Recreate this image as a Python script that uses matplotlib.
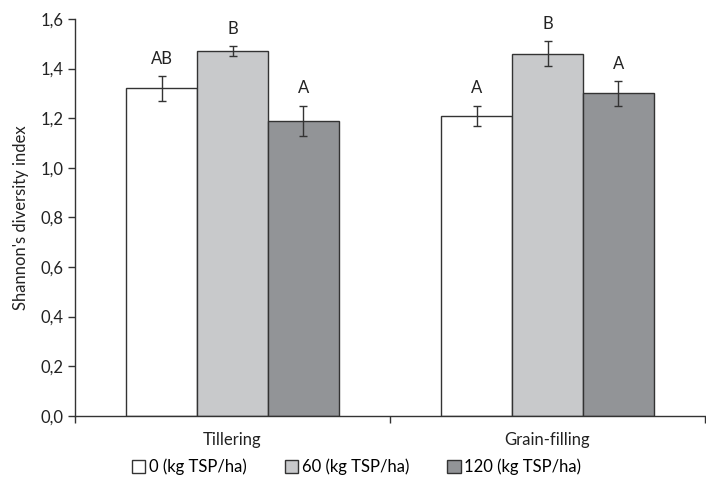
import matplotlib.pyplot as plt
import numpy as np
from matplotlib.ticker import FuncFormatter

plt.rcParams['font.family'] = ['Lato', 'DejaVu Sans']

# data
stages = ["Tillering", "Grain-filling"]
treatments = ["0 (kg TSP/ha)", "60 (kg TSP/ha)", "120 (kg TSP/ha)"]
means_0 = [1.32, 1.21]
means_60 = [1.47, 1.46]
means_120 = [1.19, 1.30]
err_0 = [0.05, 0.04]
err_60 = [0.02, 0.05]
err_120 = [0.06, 0.05]
letters_0 = ["AB", "A"]
letters_60 = ["B", "B"]
letters_120 = ["A", "A"]

colors = ["#ffffff", "#c8c9cb", "#929497"]
fs = 12

fig = plt.figure(figsize=(7.06, 4.84), dpi=100)
ax = fig.add_axes([0.1062, 0.141, 0.8925, 0.8197])

x = np.arange(len(stages))
w = 0.225
series = [(means_0, err_0, letters_0), (means_60, err_60, letters_60),
          (means_120, err_120, letters_120)]
for i, (m, e, lab) in enumerate(series):
    pos = x + (i - 1) * w
    ax.bar(pos, m, width=w, color=colors[i], edgecolor="#333333",
           linewidth=1.0, label=treatments[i], zorder=2)
    ax.errorbar(pos, m, yerr=e, fmt="none", ecolor="#333333",
                elinewidth=1.0, capsize=3, capthick=1.0, zorder=3)
    for p, mv, ev, t in zip(pos, m, e, lab):
        ax.text(p, mv + ev + 0.07, t, ha="center", va="center",
                fontsize=fs, color="#222222")

ax.set_xlim(-0.5, 1.5)
ax.set_ylim(0, 1.6)
ax.set_yticks(np.arange(0, 1.61, 0.2))
ax.yaxis.set_major_formatter(FuncFormatter(lambda v, p: f"{v:.1f}".replace(".", ",")))
ax.set_xticks(x)
ax.set_xticklabels(stages)
ax.set_xticks([-0.5, 0.5, 1.5], minor=True)
ax.tick_params(axis="x", which="major", length=0, pad=12, labelsize=fs, colors="#222222")
ax.tick_params(axis="x", which="minor", length=5, direction="out", width=1, color="#333333")
ax.tick_params(axis="y", length=5, direction="out", width=1, color="#333333",
               labelsize=fs, labelcolor="#222222")
ax.set_ylabel("Shannon's diversity index", fontsize=fs, color="#222222", labelpad=8)

for s in ["top", "right"]:
    ax.spines[s].set_visible(False)
for s in ["left", "bottom"]:
    ax.spines[s].set_color("#333333")
    ax.spines[s].set_linewidth(1.0)

fig.legend(loc="center", bbox_to_anchor=(0.505, 0.035), ncol=3, frameon=False,
           fontsize=fs, handlelength=0.8, handleheight=0.8, handletextpad=0.2,
           columnspacing=2.3)

fig.savefig("out.png", dpi=100)
